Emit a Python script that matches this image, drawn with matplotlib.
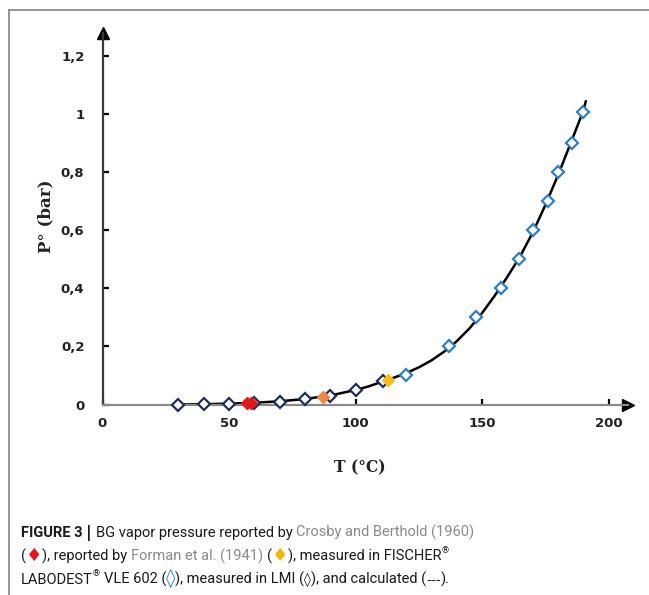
import matplotlib
matplotlib.use("Agg")
import matplotlib.pyplot as plt
from matplotlib.lines import Line2D

W, H, DPI = 649, 595, 100

# ---------------- data ----------------
lmi_T = [30, 40, 50, 60, 70, 80, 90, 100, 111]
lmi_P = [0.0, 0.001, 0.003, 0.005, 0.01, 0.02, 0.03, 0.05, 0.08]
fischer_T = [120, 137, 147.5, 157.5, 164.5, 170, 176, 180, 185.5, 190]
fischer_P = [0.10, 0.20, 0.30, 0.40, 0.50, 0.60, 0.70, 0.80, 0.90, 1.01]
crosby_T = [57, 58.5]
crosby_P = [0.005, 0.005]
forman_T = [113]
forman_P = [0.085]
orange_T = [87]
orange_P = [0.025]
calc_T = [30, 40, 50, 60, 70, 80, 90, 100, 105, 110, 115, 120, 125, 130, 135, 140, 145,
          150, 155, 160, 165, 170, 175, 180, 185, 190, 191]
calc_P = [0.0, 0.001, 0.003, 0.006, 0.011, 0.019, 0.031, 0.05, 0.062, 0.077, 0.092, 0.108,
          0.128, 0.152, 0.182, 0.218, 0.262, 0.315, 0.375, 0.44, 0.51, 0.592, 0.687, 0.79,
          0.9, 1.012, 1.045]
x_ticks = [0, 50, 100, 150, 200]
y_ticks = [0, 0.2, 0.4, 0.6, 0.8, 1.0, 1.2]
y_tick_labels = ["0", "0,2", "0,4", "0,6", "0,8", "1", "1,2"]

# ---------------- figure ----------------
fig = plt.figure(figsize=(W / DPI, H / DPI), dpi=DPI)
fig.patch.set_facecolor("white")

x0_px, x1_px = 102.5, 628.0
y0_px, y1_px = 404.5, 33.0
ax = fig.add_axes([x0_px / W, 1 - y0_px / H, (x1_px - x0_px) / W, (y0_px - y1_px) / H])
ax.set_xlim(0, 207.7)
ax.set_ylim(0, 1.281)
ax.patch.set_alpha(0)

for s in ["top", "right"]:
    ax.spines[s].set_visible(False)
ax.spines["left"].set_color("#3a3a3a")
ax.spines["left"].set_linewidth(1.6)
ax.spines["bottom"].set_color("#8a8a8a")
ax.spines["bottom"].set_linewidth(1.6)

ax.plot(1, 0, ">", color="black", markersize=8, transform=ax.get_yaxis_transform(), clip_on=False)
ax.plot(0, 1, "^", color="black", markersize=8, transform=ax.get_xaxis_transform(), clip_on=False)

ax.set_xticks(x_ticks)
ax.set_xticklabels([str(v) for v in x_ticks])
ax.set_yticks(y_ticks)
ax.set_yticklabels(y_tick_labels)
ax.tick_params(axis="both", direction="in", length=4, width=1.6, color="black",
               labelsize=9.5, labelcolor="#222222")
ax.tick_params(axis="x", pad=9)
ax.tick_params(axis="y", pad=13)
for lab in ax.get_xticklabels() + ax.get_yticklabels():
    lab.set_fontweight("bold")
    lab.set_family("DejaVu Sans")

# calculated curve
ax.plot(calc_T, calc_P, color="black", lw=1.8, zorder=2, clip_on=False)
# LMI measured
ax.plot(lmi_T, lmi_P, "D", markersize=6.2, markerfacecolor="white",
        markeredgecolor="#1f2d55", markeredgewidth=1.6, zorder=3, clip_on=False)
# FISCHER measured
ax.plot(fischer_T, fischer_P, "D", markersize=6.2, markerfacecolor="white",
        markeredgecolor="#2f7fc4", markeredgewidth=1.6, zorder=3, clip_on=False)
# Crosby and Berthold
ax.plot(crosby_T, crosby_P, "D", markersize=6.2, color="#e01818", zorder=4, clip_on=False)
# Forman et al.
ax.plot(forman_T, forman_P, "D", markersize=6.5, color="#f5be1a", zorder=4, clip_on=False)
ax.plot(orange_T, orange_P, "D", markersize=6.2, color="#f0874a", zorder=4, clip_on=False)

# axis labels
fig.text(46 / W, 1 - 216 / H, "P° (bar)", rotation=90, ha="center", va="center",
         family="DejaVu Serif", fontweight="bold", fontsize=12, color="#222222")
fig.text(360 / W, 1 - 468 / H, "T (°C)", ha="center", va="center",
         family="DejaVu Serif", fontweight="bold", fontsize=11.2, color="#222222")

# frame lines
fig.add_artist(Line2D([9 / W, 1], [1 - 10 / H, 1 - 10 / H], color="#8c8c8c", lw=1.3))
fig.add_artist(Line2D([9 / W, 9 / W], [0, 1 - 10 / H], color="#8c8c8c", lw=1.3))

# ---------------- caption ----------------
CAP = ["Roboto", "DejaVu Sans"]
SYM = ["DejaVu Sans"]
ALT = ["Liberation Sans", "DejaVu Sans"]
fig.canvas.draw()
renderer = fig.canvas.get_renderer()


def width_of(text, size, weight, family):
    t = fig.text(0, 0, text, fontsize=size, fontweight=weight, family=family)
    w = t.get_window_extent(renderer).width
    t.remove()
    return w


BLK = "#1a1a1a"
GRY = "#8a8a8a"

# fit the caption font size so that line 1 has the reference width (~451 px)
line1_plain = width_of("FIGURE 3 |", 12, "bold", CAP) + \
    width_of("a BG vapor pressure reported by Crosby and Berthold (1960)", 12, "normal", CAP) - \
    width_of("a", 12, "normal", CAP)
FS = 12 * 451.0 / line1_plain


def draw_line(x_px, base_px, pieces):
    x = x_px
    for p in pieces:
        text, color = p[0], p[1]
        weight = p[2] if len(p) > 2 else "normal"
        fam = p[3] if len(p) > 3 else CAP
        size = p[4] if len(p) > 4 else FS
        dy = p[5] if len(p) > 5 else 0
        sw = width_of("a a", size, weight, fam) - width_of("aa", size, weight, fam)
        lead = len(text) - len(text.lstrip(" "))
        trail = len(text) - len(text.rstrip(" "))
        core = text.strip(" ")
        x += lead * sw
        if core:
            t = fig.text(x / W, 1 - (base_px - dy) / H, core, color=color, fontweight=weight,
                         family=fam, fontsize=size, ha="left", va="baseline")
            x += t.get_window_extent(renderer).width
        x += trail * sw


draw_line(21, 537, [
    ("FIGURE 3 ", BLK, "bold"), ("|", BLK, "bold", SYM, FS * 1.05),
    (" BG vapor pressure reported by ", BLK),
    ("Crosby and Berthold (1960)", GRY),
])
draw_line(21, 561, [
    ("(", BLK), ("♦", "#e8141b", "normal", SYM, FS * 1.25), ("), reported by ", BLK),
    ("Forman et al. (1941)", GRY), (" (", BLK), ("♦", "#f7b500", "normal", SYM, FS * 1.25),
    ("), measured in FISCHER", BLK), ("®", BLK, "normal", CAP, 6.5, 8),
])
draw_line(21, 584, [
    ("LABODEST", BLK), ("®", BLK, "normal", CAP, 6.5, 8), (" VLE 602 (", BLK),
    ("◊", "#2f8fd0", "normal", SYM, FS * 1.3), ("), measured in LMI (", BLK),
    ("◊", BLK, "normal", SYM, FS * 0.95), ("), and calculated (", BLK),
    ("---", BLK, "normal", ALT), (").", BLK),
])

fig.savefig("out.png", dpi=DPI)
